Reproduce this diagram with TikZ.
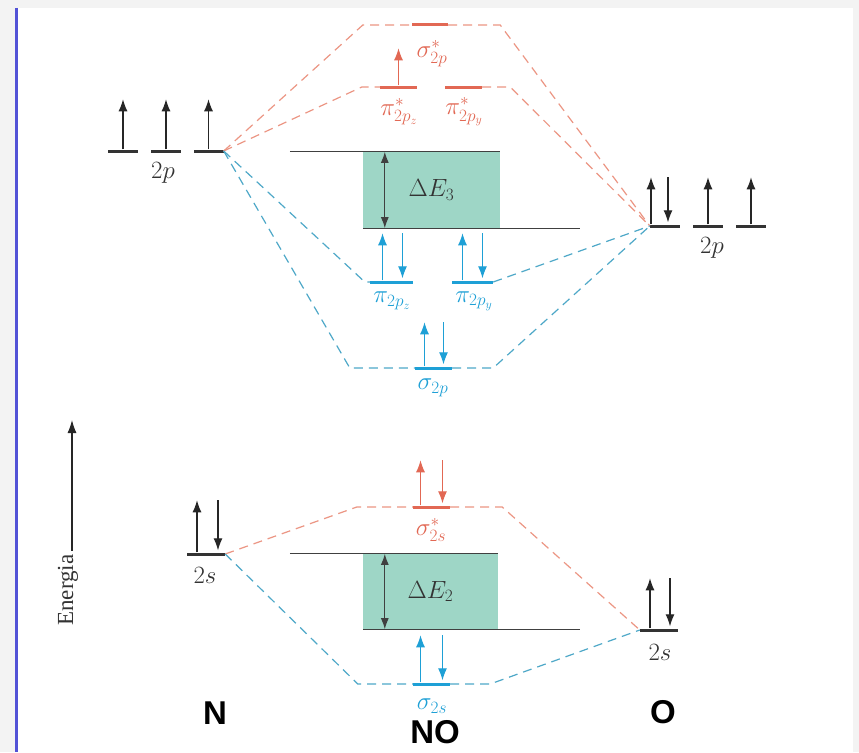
\documentclass[tikz,border=0pt]{standalone}
\usepackage{fontspec}
\setmainfont{Liberation Serif}
\setsansfont{Liberation Sans}
\usetikzlibrary{arrows.meta}
\definecolor{mored}{RGB}{226,104,84}
\definecolor{moredl}{RGB}{236,150,132}
\definecolor{moblue}{RGB}{30,160,214}
\definecolor{mobluel}{RGB}{78,168,200}
\definecolor{gapfill}{RGB}{158,214,198}
\definecolor{pagegray}{RGB}{243,243,243}
\definecolor{rulecol}{RGB}{82,82,214}

\begin{document}
\begin{tikzpicture}
	[x=1pt,y=-1pt,
	lvl/.style={fill=#1,inner sep=0pt,minimum width=30pt,minimum height=3pt},
	lvl/.default=black!80,
	spin/.style={draw=#1,line width=1.1pt,-{Latex[length=12pt,width=9pt]}},
	spin/.default=black!85,
	rdash/.style={draw=moredl,dash pattern=on 9pt off 6pt,line width=1.2pt},
	bdash/.style={draw=mobluel,dash pattern=on 9pt off 6pt,line width=1.2pt},
	gapbox/.style={fill=gapfill,inner sep=0pt,font=\fontsize{24}{28}\selectfont,text=black!80},
	gapline/.style={draw=black!75,line width=1.2pt},
	lbl/.style={font=\fontsize{23}{26}\selectfont,text=black!80},
	atom/.style={font=\fontsize{33}{36}\sffamily\bfseries\selectfont}]
	\useasboundingbox (0,0) rectangle (859,752);
	\fill[pagegray] (0,0) rectangle (859,752);
	\fill[white] (18,8) rectangle (853,752);
	\draw[rulecol,line width=3pt] (16.5,8) -- (16.5,752);

	% atomic levels
	\node[lvl] (n2pa) at (123,151) {};
	\node[lvl] (n2pb) at (166,151) {};
	\node[lvl] (n2pc) at (208.5,151) {};
	\node[lvl] (o2pa) at (665,226) {};
	\node[lvl] (o2pb) at (708,226) {};
	\node[lvl] (o2pc) at (751,226) {};
	\node[lvl,minimum width=38pt] (n2s) at (206,554) {};
	\node[lvl,minimum width=38pt] (o2s) at (659,630) {};

	% molecular levels
	\node[lvl=mored,minimum width=36pt] (s2ps) at (430,25) {};
	\node[lvl=mored,minimum width=37pt] (p2pzs) at (398.5,87) {};
	\node[lvl=mored,minimum width=37pt] (p2pys) at (463.5,87) {};
	\node[lvl=moblue,minimum width=43pt] (p2pz) at (391.5,282) {};
	\node[lvl=moblue,minimum width=41pt] (p2py) at (472.5,282) {};
	\node[lvl=moblue,minimum width=37pt] (s2p) at (433.5,368) {};
	\node[lvl=mored,minimum width=37pt] (s2ss) at (431.5,507) {};
	\node[lvl=moblue,minimum width=37pt] (s2s) at (431.5,684) {};

	% gaps
	\node[gapbox,minimum width=137pt,minimum height=76pt] (gap3) at (431.5,190) {$\Delta E_3$};
	\node[gapbox,minimum width=135pt,minimum height=75pt] (gap2) at (430.5,591.5) {$\Delta E_2$};
	\draw[gapline] ([xshift=-73pt]gap3.north west) -- (gap3.north east);
	\draw[gapline] (gap3.south west) -- ([xshift=80pt]gap3.south east);
	\draw[gapline,{Latex[length=11pt,width=8pt]}-{Latex[length=11pt,width=8pt]}] ([xshift=22pt]gap3.north west) -- ([xshift=22pt]gap3.south west);
	\draw[gapline] ([xshift=-73pt]gap2.north west) -- (gap2.north east);
	\draw[gapline] (gap2.south west) -- ([xshift=82pt]gap2.south east);
	\draw[gapline,{Latex[length=11pt,width=8pt]}-{Latex[length=11pt,width=8pt]}] ([xshift=22pt]gap2.north west) -- ([xshift=22pt]gap2.south west);

	% correlation lines
	\draw[rdash] (n2pc.east) -- ([xshift=-49pt]s2ps.west) -- (s2ps.west);
	\draw[rdash] (s2ps.east) -- ([xshift=52pt]s2ps.east) -- (o2pa.west);
	\draw[rdash] (n2pc.east) -- ([xshift=-18pt]p2pzs.west) -- (p2pzs.west);
	\draw[rdash] (p2pys.east) -- ([xshift=28pt]p2pys.east) -- (o2pa.west);
	\draw[bdash] (n2pc.east) -- ([xshift=-5pt]p2pz.west) -- (p2pz.west);
	\draw[bdash] (p2py.east) -- (o2pa.west);
	\draw[bdash] (n2pc.east) -- ([xshift=-65pt]s2p.west) -- (s2p.west);
	\draw[bdash] (s2p.east) -- ([xshift=41pt]s2p.east) -- (o2pa.west);
	\draw[rdash] (n2s.east) -- ([xshift=-56pt]s2ss.west) -- (s2ss.west);
	\draw[rdash] (s2ss.east) -- ([xshift=52pt]s2ss.east) -- (o2s.west);
	\draw[bdash] (n2s.east) -- ([xshift=-55pt]s2s.west) -- (s2s.west);
	\draw[bdash] (s2s.east) -- ([xshift=40pt]s2s.east) -- (o2s.west);

	% electrons
	\draw[spin] (n2pa.north) -- ++(0,-50);
	\draw[spin] (n2pb.north) -- ++(0,-50);
	\draw[spin] (n2pc.north) -- ++(0,-50);
	\draw[spin] ([xshift=-14pt]o2pa.north) -- ++(0,-47);
	\draw[spin] ([xshift=3pt]o2pa.north) ++(0,-47) -- ++(0,45);
	\draw[spin] (o2pb.north) -- ++(0,-47);
	\draw[spin] (o2pc.north) -- ++(0,-47);
	\draw[spin=mored] (p2pzs.north) -- ++(0,-37);
	\draw[spin=moblue] ([xshift=-9pt]p2pz.north) -- ++(0,-47);
	\draw[spin=moblue] ([xshift=11pt]p2pz.north) ++(0,-47) -- ++(0,45);
	\draw[spin=moblue] ([xshift=-10pt]p2py.north) -- ++(0,-47);
	\draw[spin=moblue] ([xshift=10pt]p2py.north) ++(0,-47) -- ++(0,45);
	\draw[spin=moblue] ([xshift=-9pt]s2p.north) -- ++(0,-44);
	\draw[spin=moblue] ([xshift=10pt]s2p.north) ++(0,-44) -- ++(0,42);
	\draw[spin] ([xshift=-9pt]n2s.north) -- ++(0,-52);
	\draw[spin] ([xshift=12pt]n2s.north) ++(0,-52) -- ++(0,50);
	\draw[spin] ([xshift=-9pt]o2s.north) -- ++(0,-50);
	\draw[spin] ([xshift=11pt]o2s.north) ++(0,-50) -- ++(0,48);
	\draw[spin=mored] ([xshift=-11pt]s2ss.north) -- ++(0,-45);
	\draw[spin=mored] ([xshift=11pt]s2ss.north) ++(0,-45) -- ++(0,43);
	\draw[spin=moblue] ([xshift=-11pt]s2s.north) -- ++(0,-47);
	\draw[spin=moblue] ([xshift=11pt]s2s.north) ++(0,-47) -- ++(0,45);

	% labels
	\node[lbl] (l2pn) at (163,173) {$2p$};
	\node[lbl] (l2po) at (712,248) {$2p$};
	\node[lbl] (l2sn) at (205,575) {$2s$};
	\node[lbl] (l2so) at (660,652) {$2s$};
	\node[lbl,text=mored] (ls2ps) at (432,54) {$\sigma^{*}_{2p}$};
	\node[lbl,text=mored] (lp2pzs) at (399,112) {$\pi^{*}_{2p_z}$};
	\node[lbl,text=mored] (lp2pys) at (464,112) {$\pi^{*}_{2p_y}$};
	\node[lbl,text=moblue] (lp2pz) at (392,301) {$\pi_{2p_z}$};
	\node[lbl,text=moblue] (lp2py) at (474,301) {$\pi_{2p_y}$};
	\node[lbl,text=moblue] (ls2p) at (433,388) {$\sigma_{2p}$};
	\node[lbl,text=mored] (ls2ss) at (431,530) {$\sigma^{*}_{2s}$};
	\node[lbl,text=moblue] (ls2s) at (432,706) {$\sigma_{2s}$};

	% energy axis
	\node[lbl,font=\fontsize{23}{26}\selectfont,rotate=90] (en) at (68,590) {Energia};
	\coordinate (entop) at (72,420);
	\draw[line width=1.1pt,draw=black!85,-{Latex[length=13pt,width=9pt]}] (en.east -| entop) -- (entop);

	% atoms
	\node[atom] (atN) at (215,713) {N};
	\node[atom,anchor=base,inner sep=0pt] (atNO) at (435,743) {NO};
	\node[atom] (atO) at (663,712) {O};
\end{tikzpicture}
\end{document}
